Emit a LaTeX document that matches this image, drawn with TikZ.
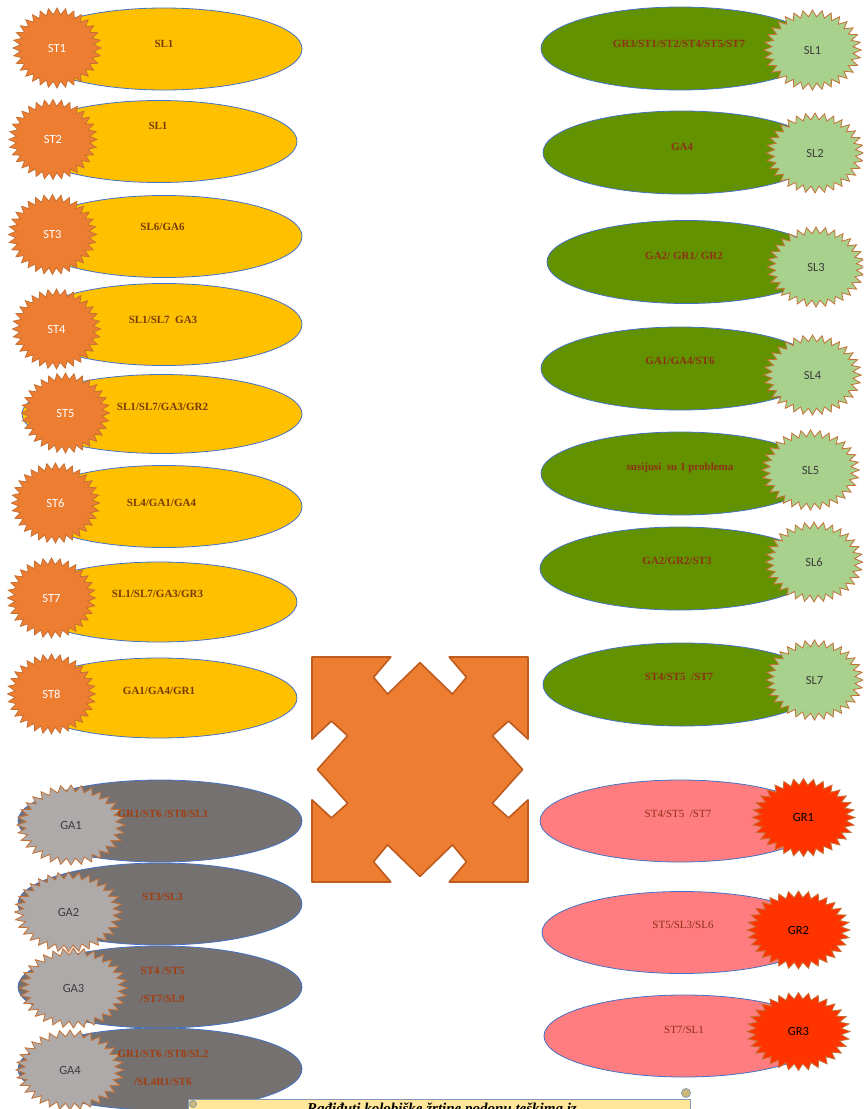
\documentclass[tikz,border=0pt]{standalone}
\usepackage{fontspec}
\usepackage{graphicx}
\setmainfont{Liberation Serif}
\newfontfamily\calfont{Carlito}
\usetikzlibrary{shapes.geometric}

\definecolor{ovalblue}{RGB}{68,114,196}
\definecolor{styellow}{RGB}{255,192,0}
\definecolor{storange}{RGB}{237,125,49}
\definecolor{burstline}{RGB}{197,112,52}
\definecolor{slgreen}{RGB}{99,146,0}
\definecolor{sllight}{RGB}{169,209,142}
\definecolor{gagrey}{RGB}{118,113,113}
\definecolor{galight}{RGB}{174,170,170}
\definecolor{grpink}{RGB}{255,124,128}
\definecolor{grred}{RGB}{255,51,0}
\definecolor{txtbrown}{RGB}{120,60,10}
\definecolor{txtrust}{RGB}{140,50,20}
\definecolor{txtorange}{RGB}{160,62,14}
\definecolor{txtdark}{RGB}{60,60,60}
\definecolor{crossline}{RGB}{190,92,32}
\definecolor{scrollfill}{RGB}{255,230,153}
\definecolor{scrollline}{RGB}{132,151,176}
\definecolor{scrollcurl}{RGB}{205,185,115}

% undo the horizontal stretch of a burst for its label
\newcommand{\sq}[2]{\scalebox{#1}[1]{#2}}

\begin{document}
\begin{tikzpicture}[x=1pt, y=-1pt,
    ovalbox/.style={ellipse, draw=ovalblue, line width=0.8pt, inner sep=0pt, minimum width=276pt, minimum height=82pt},
    yellowbox/.style={ovalbox, fill=styellow},
    greenbox/.style={ovalbox, fill=slgreen, minimum width=278pt, minimum height=83pt},
    greybox/.style={ovalbox, fill=gagrey, minimum width=284pt},
    pinkbox/.style={ovalbox, fill=grpink, minimum width=280pt},
    burstbox/.style={star, star points=32, star point ratio=1.2, draw=burstline, line width=0.8pt, inner sep=0pt, minimum size=80pt, font=\calfont\fontsize{12.5}{14}\selectfont},
    stburst/.style={burstbox, fill=storange, text=white, xscale=1.1},
    slburst/.style={burstbox, fill=sllight, text=txtdark, xscale=1.22},
    gaburst/.style={burstbox, fill=galight, text=txtdark, xscale=1.35},
    grburst/.style={burstbox, fill=grred, text=black, minimum size=78pt, xscale=1.32},
    linktext/.style={inner sep=0pt, align=center, font=\bfseries\fontsize{11}{28}\selectfont},
  ]
        \useasboundingbox (0,0) rectangle (863,1109);
        \clip (0,0) rectangle (863,1109);

        % ST column
        \node[yellowbox] (st1bg) at (164,49) {};
        \node[stburst] (st1) at (57,48) {\sq{0.91}{ST1}};
        \node[linktext, text=txtbrown] (st1to) at (164,44) {SL1};
        \node[yellowbox] (st2bg) at (159,141.5) {};
        \node[stburst] (st2) at (53,139.5) {\sq{0.91}{ST2}};
        \node[linktext, text=txtbrown] (st2to) at (158,126) {SL1};
        \node[yellowbox] (st3bg) at (164,236.5) {};
        \node[stburst] (st3) at (52.5,234.5) {\sq{0.91}{ST3}};
        \node[linktext, text=txtbrown] (st3to) at (162.5,227) {SL6/GA6};
        \node[yellowbox] (st4bg) at (164,324.5) {};
        \node[stburst] (st4) at (56.5,329) {\sq{0.91}{ST4}};
        \node[linktext, text=txtbrown] (st4to) at (163,319.5) {SL1/SL7\ \ GA3};
        \node[yellowbox, minimum width=280pt, minimum height=79pt] (st5bg) at (162,414) {};
        \node[stburst] (st5) at (65.5,413) {\sq{0.91}{ST5}};
        \node[linktext, text=txtbrown] (st5to) at (162.5,407) {SL1/SL7/GA3/GR2};
        \node[yellowbox] (st6bg) at (164,506.5) {};
        \node[stburst] (st6) at (55.5,503) {\sq{0.91}{ST6}};
        \node[linktext, text=txtbrown] (st6to) at (161.5,502.5) {SL4/GA1/GA4};
        \node[yellowbox, minimum height=80pt] (st7bg) at (159,602) {};
        \node[stburst] (st7) at (51.5,598) {\sq{0.91}{ST7}};
        \node[linktext, text=txtbrown] (st7to) at (157.5,593.5) {SL1/SL7/GA3/GR3};
        \node[yellowbox, minimum height=80pt] (st8bg) at (159,698) {};
        \node[stburst] (st8) at (51.5,694) {\sq{0.91}{ST8}};
        \node[linktext, text=txtbrown] (st8to) at (159,691) {GA1/GA4/GR1};

        % SL column
        \node[greenbox] (sl1bg) at (680,48.5) {};
        \node[slburst] (sl1) at (812.5,50) {\sq{0.82}{SL1}};
        \node[linktext, text=txtrust] (sl1to) at (679,44) {GR3/ST1/ST2/ST4/ST5/ST7};
        \node[greenbox] (sl2bg) at (682,152.5) {};
        \node[slburst] (sl2) at (815,153) {\sq{0.82}{SL2}};
        \node[linktext, text=txtrust] (sl2to) at (682,147) {GA4};
        \node[greenbox] (sl3bg) at (686,262) {};
        \node[slburst] (sl3) at (816,267) {\sq{0.82}{SL3}};
        \node[linktext, text=txtrust] (sl3to) at (684,256) {GA2/ GR1/ GR2};
        \node[greenbox] (sl4bg) at (680,368.5) {};
        \node[slburst] (sl4) at (812.5,375) {\sq{0.82}{SL4}};
        \node[linktext, text=txtrust] (sl4to) at (680,361) {GA1/GA4/ST6};
        \node[greenbox] (sl5bg) at (680,473.5) {};
        \node[slburst] (sl5) at (810.5,470) {\sq{0.82}{SL5}};
        \node[linktext, text=txtrust] (sl5to) at (680,468) {susijusi\ \ su 1 problema};
        \node[greenbox] (sl6bg) at (679,568.5) {};
        \node[slburst] (sl6) at (814,562) {\sq{0.82}{SL6}};
        \node[linktext, text=txtrust] (sl6to) at (677,561) {GA2/GR2/ST3};
        \node[greenbox] (sl7bg) at (682,684.5) {};
        \node[slburst] (sl7) at (814.5,680) {\sq{0.82}{SL7}};
        \node[linktext, text=txtrust] (sl7to) at (679,676.5) {ST4/ST5\ \ /ST7};

        % GA column
        \node[greybox] (ga1bg) at (160,821) {};
        \node[gaburst] (ga1) at (71,825) {\sq{0.74}{GA1}};
        \node[linktext, text=txtorange] (ga1to) at (163,814) {GR1/ST6 /ST8/SL1};
        \node[greybox] (ga2bg) at (160,904) {};
        \node[gaburst] (ga2) at (68.5,912) {\sq{0.74}{GA2}};
        \node[linktext, text=txtorange] (ga2to) at (162.5,897) {ST3/SL3};
        \node[greybox] (ga3bg) at (160,987) {};
        \node[gaburst] (ga3) at (73.5,988) {\sq{0.74}{GA3}};
        \node[linktext, text=txtorange] (ga3to) at (162.5,985) {ST4 /ST5\\/ST7/SL9};
        \node[greybox] (ga4bg) at (160,1069) {};
        \node[gaburst] (ga4) at (70,1070) {\sq{0.74}{GA4}};
        \node[linktext, text=txtorange] (ga4to) at (163,1068) {GR1/ST6 /ST8/SL2\\/SL4R1/ST6};

        % GR column
        \node[pinkbox] (gr1bg) at (680,821) {};
        \node[grburst] (gr1) at (803.5,817.5) {\sq{0.76}{GR1}};
        \node[linktext, text=txtrust, font=\fontsize{11}{13}\selectfont] (gr1to) at (678,814) {ST4/ST5\ \ /ST7};
        \node[pinkbox] (gr2bg) at (682,932.5) {};
        \node[grburst] (gr2) at (798.5,930) {\sq{0.76}{GR2}};
        \node[linktext, text=txtrust, font=\fontsize{11}{13}\selectfont] (gr2to) at (683,925) {ST5/SL3/SL6};
        \node[pinkbox] (gr3bg) at (684,1036) {};
        \node[grburst] (gr3) at (798.5,1031.5) {\sq{0.76}{GR3}};
        \node[linktext, text=txtrust, font=\fontsize{11}{13}\selectfont] (gr3to) at (684,1030) {ST7/SL1};

        % middle cross
        \begin{scope}[shift={(420,769.5)}, x=108pt, y=-112.5pt]
            \draw[fill=storange, draw=crossline, line width=1.6pt, line join=round]
                (-1,-1) -- (-0.27,-1) -- (-0.43,-0.82) -- (-0.30,-0.67) -- (0,-0.95)
                -- (0.30,-0.67) -- (0.43,-0.82) -- (0.27,-1) -- (1,-1)
                -- (1,-0.27) -- (0.82,-0.43) -- (0.67,-0.30) -- (0.95,0)
                -- (0.67,0.30) -- (0.82,0.43) -- (1,0.27) -- (1,1)
                -- (0.27,1) -- (0.43,0.82) -- (0.30,0.67) -- (0,0.95)
                -- (-0.30,0.67) -- (-0.43,0.82) -- (-0.27,1) -- (-1,1)
                -- (-1,0.27) -- (-0.82,0.43) -- (-0.67,0.30) -- (-0.95,0)
                -- (-0.67,-0.30) -- (-0.82,-0.43) -- (-1,-0.27) -- cycle;
        \end{scope}

        % scroll at the bottom
        \draw[fill=scrollfill, draw=scrollline, line width=1pt] (188,1099) rectangle (690,1140);
        \draw[fill=scrollcurl, draw=scrollline, line width=0.8pt] (686,1093) circle (4.5);
        \draw[fill=scrollcurl, draw=scrollline, line width=0.8pt] (193,1104) circle (3.5);
        \node[anchor=base, inner sep=0pt, font=\bfseries\itshape\fontsize{15}{18}\selectfont] (banner) at (442,1113) {Rađiđuti kolobiške žrtine podonu teškima iz};
\end{tikzpicture}
\end{document}
